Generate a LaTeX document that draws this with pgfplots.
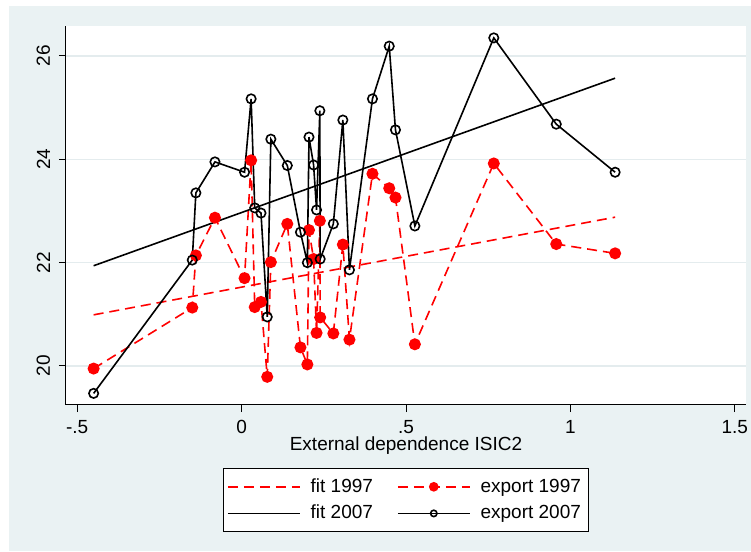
\documentclass[border=0pt]{standalone}
\usepackage{fontspec}
\setmainfont{Liberation Sans}
\usepackage{pgfplots}
\pgfplotsset{compat=1.18}
\definecolor{statabg}{RGB}{234,242,243}
\definecolor{statagrid}{RGB}{228,236,238}
\begin{document}
\fontsize{9.5pt}{11pt}\selectfont
\begin{tikzpicture}
% graph region
\fill[white] (-33pt,-73.5pt) rectangle (342.5pt,202.5pt);
\fill[statabg] (-28.5pt,-73pt) rectangle (342.5pt,199.5pt);
\begin{axis}[
    at={(0,0)}, anchor=south west,
    scale only axis, width=340pt, height=189.5pt,
    xmin=-0.534, xmax=1.534, ymin=19.245, ymax=26.58,
    axis lines*=left,
    axis line style={black, line width=0.5pt, -},
    axis background/.style={fill=white},
    tick align=outside, major tick length=3.6pt,
    tick style={black, line width=0.5pt},
    xtick={-0.5,0,0.5,1,1.5}, xticklabels={-.5,0,.5,1,1.5},
    xticklabel style={yshift=-0.5pt},
    ytick={20,22,24,26}, yticklabels={20,22,24,26},
    yticklabel style={xshift=-1pt, rotate=90, anchor=south},
    ymajorgrids,
    major grid style={statagrid, line width=0.75pt},
    xlabel={External dependence ISIC2},
    xlabel style={at={(axis description cs:0.5,-0.107)}, anchor=center},
    legend columns=2,
    legend cell align=left,
    legend style={
        at={(axis description cs:0.5,-0.1662)}, anchor=north,
        draw=black, line width=0.5pt, fill=white,
        inner xsep=2pt, inner ysep=3pt, row sep=1pt,
        /tikz/every odd column/.append style={column sep=3pt},
        /tikz/every even column/.append style={column sep=10pt}
    },
    legend image code/.code={
        \draw[mark repeat=2, mark phase=2]
        plot coordinates {(0pt,0pt) (18pt,0pt) (36pt,0pt)};
    },
]
% linear fits
\addplot[red, line width=0.8pt, dash pattern=on 5pt off 3pt] coordinates {
    (-0.450,20.99) (1.136,22.88)
};
\addlegendentry{fit 1997}

\addplot[red, line width=0.8pt, dash pattern=on 5pt off 3pt,
    mark=*, mark size=2.6pt, mark options={solid, fill=red},
    legend image post style={mark size=2pt}] coordinates {
    (-0.450,19.95) (-0.150,21.13) (-0.139,22.14) (-0.081,22.87)
    (0.009,21.70) (0.029,23.98) (0.040,21.14) (0.059,21.24)
    (0.078,19.79) (0.089,22.01) (0.139,22.75) (0.179,20.36)
    (0.200,20.03) (0.205,22.63) (0.219,22.07) (0.228,20.64)
    (0.238,22.81) (0.239,20.94) (0.279,20.63) (0.308,22.35)
    (0.328,20.51) (0.398,23.72) (0.449,23.44) (0.468,23.26)
    (0.527,20.42) (0.767,23.92) (0.957,22.36) (1.136,22.18)
};
\addlegendentry{export 1997}

\addplot[black, line width=0.8pt] coordinates {
    (-0.450,21.94) (1.136,25.57)
};
\addlegendentry{fit 2007}

\addplot[black, line width=0.8pt, mark=o, mark size=2.35pt,
    mark options={solid},
    legend image post style={mark size=1.6pt}] coordinates {
    (-0.450,19.47) (-0.150,22.05) (-0.139,23.35) (-0.081,23.95)
    (0.009,23.75) (0.029,25.17) (0.040,23.06) (0.059,22.96)
    (0.078,20.95) (0.089,24.39) (0.139,23.88) (0.179,22.59)
    (0.200,22.00) (0.205,24.43) (0.219,23.89) (0.228,23.02)
    (0.238,24.94) (0.239,22.07) (0.279,22.75) (0.308,24.76)
    (0.328,21.86) (0.398,25.17) (0.449,26.19) (0.468,24.57)
    (0.527,22.71) (0.767,26.35) (0.957,24.68) (1.136,23.75)
};
\addlegendentry{export 2007}
\end{axis}
\pgfresetboundingbox
\path[use as bounding box] (-33pt,-73.5pt) rectangle (342.5pt,202.5pt);
\end{tikzpicture}
\end{document}
